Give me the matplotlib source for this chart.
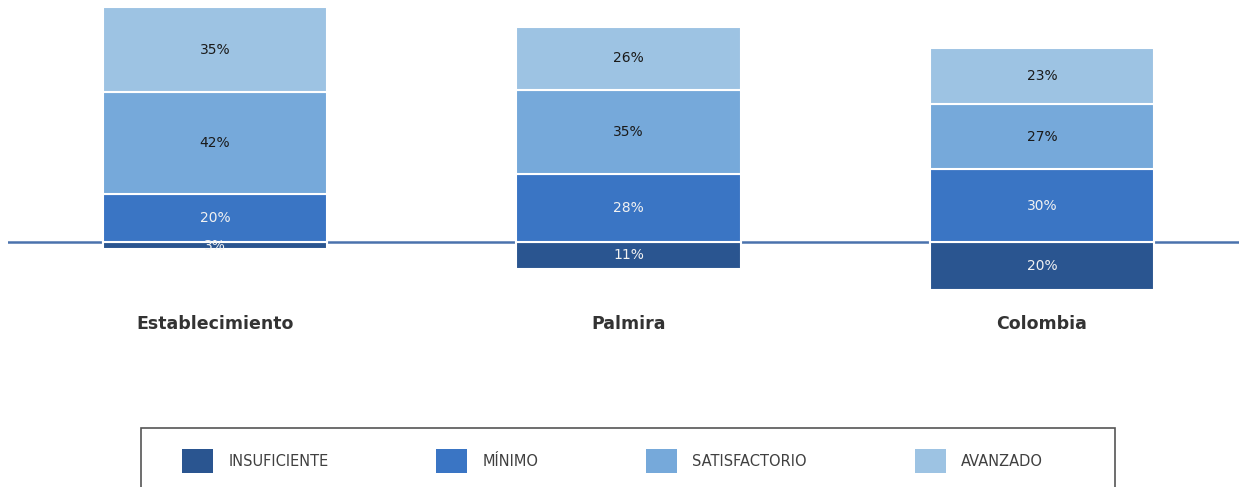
import matplotlib
matplotlib.use("Agg")
import matplotlib.pyplot as plt
import numpy as np
from matplotlib.patches import Rectangle, Patch

categories = ["Establecimiento", "Palmira", "Colombia"]
levels = ["INSUFICIENTE", "MÍNIMO", "SATISFACTORIO", "AVANZADO"]
insuficiente = [3, 11, 20]
minimo = [20, 28, 30]
satisfactorio = [42, 35, 27]
avanzado = [35, 26, 23]

colors = ["#2a5590", "#3a75c4", "#76a9da", "#9dc3e3"]
text_colors = ["#f2f2f2", "#f2f2f2", "#1a1a1a", "#1a1a1a"]

W, H = 1239, 487
fig = plt.figure(figsize=(W / 100, H / 100), dpi=100)
ax = fig.add_axes([8 / W, (H - 300) / H, (W - 8) / W, 300 / H])

x = np.arange(len(categories))
width = 0.542

ax.axhline(0, color="#4a72ad", lw=1.8, zorder=1)

# below the line
bars = ax.bar(x, -np.array(insuficiente), width, color=colors[0],
              edgecolor="white", lw=1.5, zorder=2)
for b, v in zip(bars, insuficiente):
    ax.text(b.get_x() + b.get_width() / 2, -v / 2, f"{v}%", ha="center", va="center",
            fontsize=10, color=text_colors[0], zorder=3)

# above the line
bottom = np.zeros(len(categories))
for vals, col, tcol in zip([minimo, satisfactorio, avanzado], colors[1:], text_colors[1:]):
    vals = np.array(vals)
    bars = ax.bar(x, vals, width, bottom=bottom, color=col,
                  edgecolor="white", lw=1.5, zorder=2)
    for b, v, b0 in zip(bars, vals, bottom):
        ax.text(b.get_x() + b.get_width() / 2, b0 + v / 2, f"{v}%", ha="center",
                va="center", fontsize=10, color=tcol, zorder=3)
    bottom += vals

ax.set_xlim(-207 / 413.5, (W - 215) / 413.5)
ax.set_ylim(-24, 100)
ax.axis("off")

for xi, name in zip(x, categories):
    ax.text(xi, -34, name, ha="center", va="center", fontsize=12.5,
            fontweight="bold", color="#333333")

# legend box (cut off at the bottom, as in the original)
fig.patches.append(Rectangle((141 / W, -0.05), 974 / W, 0.05 + (H - 428) / H,
                             transform=fig.transFigure, fill=False,
                             edgecolor="#555555", lw=1.2))
handles = [Patch(facecolor=c, edgecolor="none", label=l) for c, l in zip(colors, levels)]
fs = 10.5
fig.legend(handles=handles, loc="center left",
           bbox_to_anchor=((175 - 0.4 * fs * 100 / 72) / W, 1 - 461 / H),
           ncol=4, frameon=False, fontsize=fs, handlelength=2.12, handleheight=2.15,
           handletextpad=1.03, columnspacing=7.4, labelcolor="#404040")

fig.savefig("out.png", dpi=100)
